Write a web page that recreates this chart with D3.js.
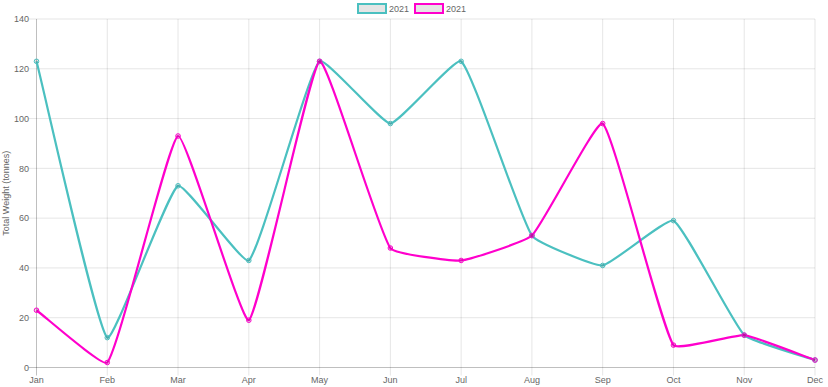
<!DOCTYPE html>
<html>
<head>
<meta charset="utf-8">
<script src="https://cdn.jsdelivr.net/npm/d3@7"></script>
<style>
html,body{margin:0;padding:0;background:#fff;}
svg{display:block;}
text{font-family:"Helvetica Neue",Helvetica,Arial,"Liberation Sans",sans-serif;fill:#666;}
</style>
</head>
<body>
<svg id="chart" width="828" height="387"></svg>
<script>
const months = ["Jan","Feb","Mar","Apr","May","Jun","Jul","Aug","Sep","Oct","Nov","Dec"];
const seriesA = [123, 12, 73, 43, 123, 98, 123, 53, 41, 59, 13, 3];
const seriesB = [23, 2, 93, 19, 123, 48, 43, 53, 98, 9, 13, 3];
const seriesLabels = ["2021", "2021"];
const seriesColors = ["rgb(75,192,192)", "rgb(255,0,204)"];
const yTicks = [0, 20, 40, 60, 80, 100, 120, 140];
const yTitle = "Total Weight (tonnes)";

(function () {
const pLeft = 36.5, pRight = 815, pTop = 19, pBottom = 367.5;
const svg = d3.select("#chart");

const x = d3.scalePoint().domain(months).range([pLeft, pRight]);
const y = d3.scaleLinear().domain([0, 140]).range([pBottom, pTop]);

// grid
const grid = svg.append("g");
months.forEach((m, i) => {
  grid.append("line")
    .attr("x1", x(m)).attr("x2", x(m))
    .attr("y1", pTop).attr("y2", pBottom + 8)
    .attr("stroke", i === 0 ? "rgba(0,0,0,0.25)" : "rgba(0,0,0,0.1)")
    .attr("stroke-width", 1);
});
yTicks.forEach(t => {
  grid.append("line")
    .attr("x1", pLeft - 8).attr("x2", pRight)
    .attr("y1", y(t)).attr("y2", y(t))
    .attr("stroke", t === 0 ? "rgba(0,0,0,0.25)" : "rgba(0,0,0,0.1)")
    .attr("stroke-width", 1);
});

// tick labels
svg.append("g").selectAll("text").data(yTicks).join("text")
  .attr("x", pLeft - 7.5).attr("y", d => y(d)).attr("dy", "0.35em")
  .attr("text-anchor", "end").attr("font-size", "9px").text(d => d);
svg.append("g").selectAll("text").data(months).join("text")
  .attr("x", d => x(d)).attr("y", 380).attr("dy", "0.35em")
  .attr("text-anchor", "middle").attr("font-size", "9px").text(d => d);

svg.append("text")
  .attr("transform", `translate(6,${(pTop + pBottom) / 2}) rotate(-90)`)
  .attr("text-anchor", "middle").attr("dy", "0.35em")
  .attr("font-size", "9px").text(yTitle);

// Chart.js-like spline curve (low tension)
function ChartSpline(context) { this._context = context; }
ChartSpline.prototype = {
  areaStart() {}, areaEnd() {},
  lineStart() { this._pts = []; },
  point(px, py) { this._pts.push([+px, +py]); },
  lineEnd() {
    const p = this._pts, n = p.length, t = 0.12, c = this._context;
    if (!n) return;
    const clampY = v => Math.max(pTop, Math.min(pBottom, v));
    const cps = p.map((cur, i) => {
      const prev = i > 0 ? p[i - 1] : cur;
      const next = i < n - 1 ? p[i + 1] : cur;
      const d01 = Math.hypot(cur[0] - prev[0], cur[1] - prev[1]);
      const d12 = Math.hypot(next[0] - cur[0], next[1] - cur[1]);
      let s01 = d01 / (d01 + d12), s12 = d12 / (d01 + d12);
      if (isNaN(s01)) s01 = 0; if (isNaN(s12)) s12 = 0;
      const fa = t * s01, fb = t * s12;
      return {
        prev: [cur[0] - fa * (next[0] - prev[0]), clampY(cur[1] - fa * (next[1] - prev[1]))],
        next: [cur[0] + fb * (next[0] - prev[0]), clampY(cur[1] + fb * (next[1] - prev[1]))]
      };
    });
    c.moveTo(p[0][0], p[0][1]);
    for (let i = 1; i < n; i++) {
      c.bezierCurveTo(cps[i - 1].next[0], cps[i - 1].next[1], cps[i].prev[0], cps[i].prev[1], p[i][0], p[i][1]);
    }
  }
};
const curve = ctx => new ChartSpline(ctx);

const line = d3.line().x((d, i) => x(months[i])).y(d => y(d)).curve(curve);

const allSeries = [seriesA, seriesB];
allSeries.forEach((s, k) => {
  svg.append("path").datum(s)
    .attr("d", line).attr("fill", "none")
    .attr("stroke", seriesColors[k]).attr("stroke-width", 2.2)
    .attr("stroke-linejoin", "round");
});
allSeries.forEach((s, k) => {
  svg.append("g").selectAll("circle").data(s).join("circle")
    .attr("cx", (d, i) => x(months[i])).attr("cy", d => y(d)).attr("r", 2.3)
    .attr("fill", "rgba(0,0,0,0.1)").attr("stroke", seriesColors[k]).attr("stroke-width", 1);
});

// legend
const legend = svg.append("g");
const legX = [357, 414];
seriesLabels.forEach((lab, k) => {
  legend.append("rect").attr("x", legX[k] + 1).attr("y", 4).attr("width", 28).attr("height", 9)
    .attr("fill", "rgba(0,0,0,0.1)").attr("stroke", seriesColors[k]).attr("stroke-width", 2);
  legend.append("text").attr("x", legX[k] + 32).attr("y", 8.5).attr("dy", "0.35em")
    .attr("font-size", "9px").text(lab);
});
})();
</script>
</body>
</html>
